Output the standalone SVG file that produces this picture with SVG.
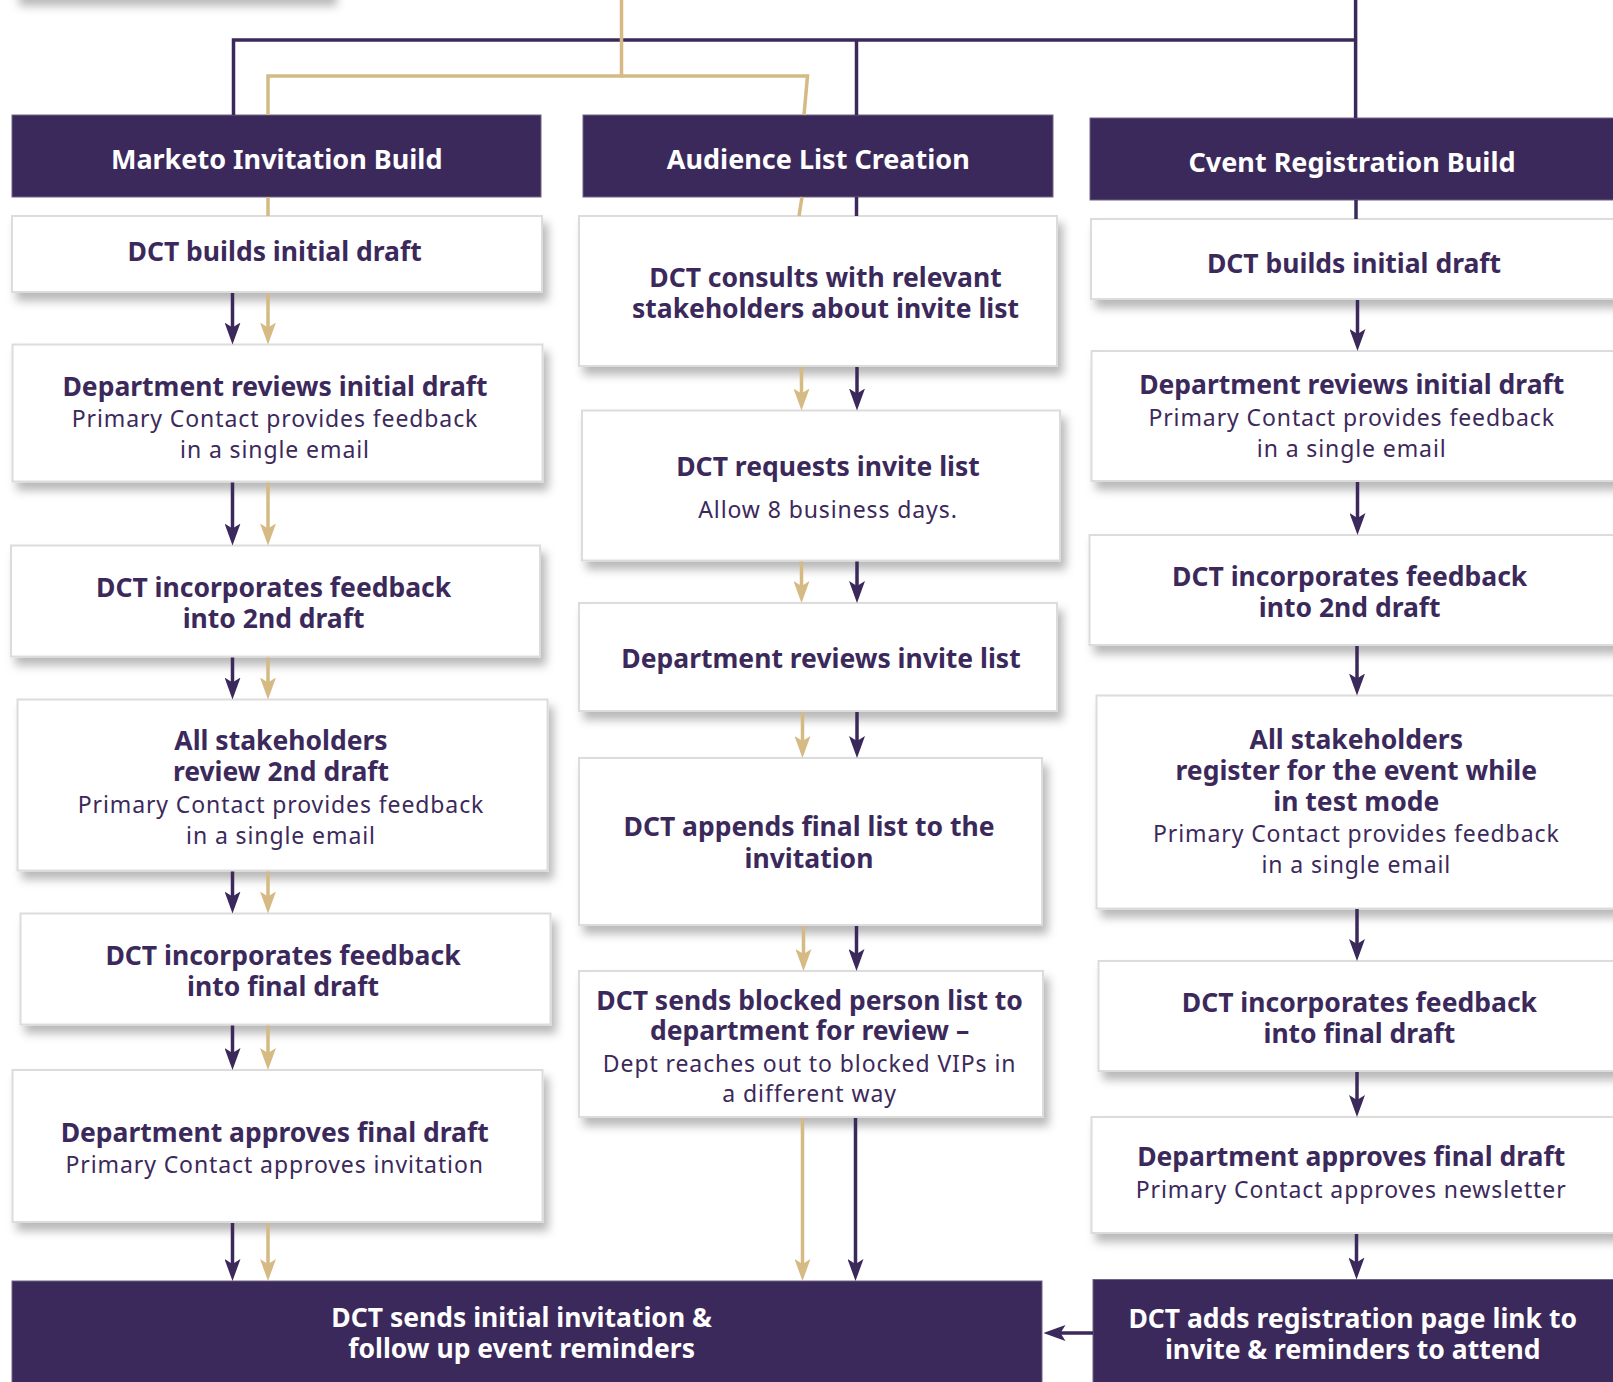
<svg xmlns="http://www.w3.org/2000/svg" width="1613" height="1382" viewBox="0 0 1613 1382">
<defs>
<style>
.box{fill:#fff;stroke:#dcdcdc;stroke-width:2;filter:url(#sh)}
.hdr{fill:#3c295b;stroke:#6e6287;stroke-width:1}
.t{font-family:"Noto Sans","Open Sans",sans-serif;font-weight:700;font-size:26.5px;fill:#3c295b;text-anchor:middle}
.s{font-family:"Noto Sans","Open Sans",sans-serif;font-weight:400;font-size:23px;letter-spacing:0.9px;fill:#3c295b;text-anchor:middle}
.w{font-family:"Noto Sans","Open Sans",sans-serif;font-weight:700;font-size:27px;fill:#fff;text-anchor:middle}
.wb{font-family:"Noto Sans","Open Sans",sans-serif;font-weight:700;font-size:26.5px;fill:#fff;text-anchor:middle}
.d{stroke:#3c295b;stroke-width:3.5;fill:none}
.g{stroke:#d5ba83;stroke-width:3.5;fill:none}
.da{stroke:#3c295b;stroke-width:3.5;fill:none;marker-end:url(#ad)}
.ga{stroke:#d5ba83;stroke-width:3.5;fill:none;marker-end:url(#ag)}
</style>
<filter id="sh" x="-10%" y="-20%" width="125%" height="150%">
<feDropShadow dx="5" dy="8" stdDeviation="5" flood-color="#000" flood-opacity="0.28"/>
</filter>
<marker id="ad" markerUnits="userSpaceOnUse" viewBox="0 0 22 16" markerWidth="22" markerHeight="16" refX="12" refY="8" orient="auto">
<path d="M0,0 L22,8 L0,16 L5,8 Z" fill="#3c295b"/>
</marker>
<marker id="ag" markerUnits="userSpaceOnUse" viewBox="0 0 22 16" markerWidth="22" markerHeight="16" refX="12" refY="8" orient="auto">
<path d="M0,0 L22,8 L0,16 L5,8 Z" fill="#d5ba83"/>
</marker>
</defs>
<rect width="1613" height="1382" fill="#fff"/>
<rect x="14" y="-80" width="318" height="78" fill="#fff" filter="url(#sh)"/>

<g id="marketo-header"><rect class="hdr" x="12" y="115" width="529" height="82"/><text class="w" x="276.7" y="169">Marketo Invitation Build</text></g>
<g id="audience-header"><rect class="hdr" x="583" y="115" width="470" height="82"/><text class="w" x="818.3" y="169">Audience List Creation</text></g>
<g id="cvent-header"><rect class="hdr" x="1090" y="118" width="530" height="82"/><text class="w" x="1352" y="172">Cvent Registration Build</text></g>

<g id="m1"><rect class="box" x="12" y="216" width="530" height="76"/><text class="t" x="274.6" y="261">DCT builds initial draft</text></g>
<g id="m2"><rect class="box" x="12.5" y="344.5" width="530" height="137"/><text class="t" x="275" y="396">Department reviews initial draft</text><text class="s" x="275" y="427">Primary Contact provides feedback</text><text class="s" x="275" y="457.5">in a single email</text></g>
<g id="m3"><rect class="box" x="11" y="545.5" width="529" height="111"/><text class="t" x="273.6" y="596.5">DCT incorporates feedback</text><text class="t" x="273.6" y="627.5">into 2nd draft</text></g>
<g id="m4"><rect class="box" x="17.5" y="699.5" width="530" height="171"/><text class="t" x="281" y="750">All stakeholders</text><text class="t" x="281" y="780.5">review 2nd draft</text><text class="s" x="281" y="812.5">Primary Contact provides feedback</text><text class="s" x="281" y="843.5">in a single email</text></g>
<g id="m5"><rect class="box" x="20.5" y="913.5" width="530" height="111"/><text class="t" x="283" y="965">DCT incorporates feedback</text><text class="t" x="283" y="995.5">into final draft</text></g>
<g id="m6"><rect class="box" x="12.5" y="1070" width="530" height="152"/><text class="t" x="274.7" y="1141.5">Department approves final draft</text><text class="s" x="274.7" y="1172.5">Primary Contact approves invitation</text></g>

<g id="a1"><rect class="box" x="579" y="216" width="478" height="150"/><text class="t" x="825.5" y="287">DCT consults with relevant</text><text class="t" x="825.5" y="317.5">stakeholders about invite list</text></g>
<g id="a2"><rect class="box" x="582" y="410.5" width="478" height="150"/><text class="t" x="828" y="476">DCT requests invite list</text><text class="s" x="828" y="517.5">Allow 8 business days.</text></g>
<g id="a3"><rect class="box" x="579" y="603" width="478" height="108"/><text class="t" x="821" y="667.5">Department reviews invite list</text></g>
<g id="a4"><rect class="box" x="579" y="758" width="463" height="167"/><text class="t" x="809" y="836">DCT appends final list to the</text><text class="t" x="809" y="868">invitation</text></g>
<g id="a5"><rect class="box" x="579" y="971" width="464" height="146"/><text class="t" x="809.6" y="1010">DCT sends blocked person list to</text><text class="t" x="809.6" y="1040">department for review –</text><text class="s" x="809.6" y="1071.5">Dept reaches out to blocked VIPs in</text><text class="s" x="809.6" y="1102">a different way</text></g>

<g id="c1"><rect class="box" x="1091" y="219" width="530" height="80"/><text class="t" x="1354" y="272.5">DCT builds initial draft</text></g>
<g id="c2"><rect class="box" x="1091.5" y="351" width="530" height="130"/><text class="t" x="1351.7" y="393.5">Department reviews initial draft</text><text class="s" x="1351.7" y="425.5">Primary Contact provides feedback</text><text class="s" x="1351.7" y="456.5">in a single email</text></g>
<g id="c3"><rect class="box" x="1089.5" y="535" width="530" height="110"/><text class="t" x="1349.7" y="586">DCT incorporates feedback</text><text class="t" x="1349.7" y="617">into 2nd draft</text></g>
<g id="c4"><rect class="box" x="1096.5" y="695.5" width="530" height="213"/><text class="t" x="1356.3" y="749">All stakeholders</text><text class="t" x="1356.3" y="780">register for the event while</text><text class="t" x="1356.3" y="810.5">in test mode</text><text class="s" x="1356.3" y="841.5">Primary Contact provides feedback</text><text class="s" x="1356.3" y="872.5">in a single email</text></g>
<g id="c5"><rect class="box" x="1098.5" y="961" width="530" height="110"/><text class="t" x="1359.4" y="1012">DCT incorporates feedback</text><text class="t" x="1359.4" y="1043">into final draft</text></g>
<g id="c6"><rect class="box" x="1091.5" y="1117" width="530" height="116"/><text class="t" x="1351.2" y="1166">Department approves final draft</text><text class="s" x="1351.2" y="1198">Primary Contact approves newsletter</text></g>

<g id="send-invitation"><rect class="hdr" x="12" y="1281" width="1030" height="110"/><text class="wb" x="521.6" y="1327">DCT sends initial invitation &amp;</text><text class="wb" x="521.6" y="1357.5">follow up event reminders</text></g>
<g id="add-link"><rect class="hdr" x="1093" y="1279.5" width="530" height="110"/><text class="wb" x="1352.7" y="1328">DCT adds registration page link to</text><text class="wb" x="1352.7" y="1358.5">invite &amp; reminders to attend</text></g>

<g id="connectors">
<path class="d" d="M1355.6,0 V118"/>
<path class="d" d="M1355.6,40 H233.5 V115"/>
<path class="d" d="M856.5,40 V115"/>
<path class="g" d="M621.5,0 V76 H268 V115"/>
<path class="g" d="M621.5,76 H807.5 L804,115"/>
<path class="g" d="M268,197 V216"/>
<path class="d" d="M856.5,197 V216"/>
<path class="g" d="M802,197 L799,216"/>
<path class="d" d="M1356,200 V219"/>

<path class="da" d="M232.5,293 V334.5"/><path class="ga" d="M268,293 V334.5"/>
<path class="da" d="M232.5,482.5 V535.5"/><path class="ga" d="M268,482.5 V535.5"/>
<path class="da" d="M232.5,657.5 V689.5"/><path class="ga" d="M268,657.5 V689.5"/>
<path class="da" d="M232.5,871.5 V903.5"/><path class="ga" d="M268,871.5 V903.5"/>
<path class="da" d="M232.5,1025.5 V1060"/><path class="ga" d="M268,1025.5 V1060"/>
<path class="da" d="M232.5,1223 V1271"/><path class="ga" d="M268,1223 V1271"/>

<path class="ga" d="M801.5,367 V400.5"/><path class="da" d="M857,367 V400.5"/>
<path class="ga" d="M801.5,561.5 V593"/><path class="da" d="M857,561.5 V593"/>
<path class="ga" d="M802.5,712 V748"/><path class="da" d="M857,712 V748"/>
<path class="ga" d="M803.5,926 V961"/><path class="da" d="M856.5,926 V961"/>
<path class="ga" d="M802.5,1118 V1271"/><path class="da" d="M855.5,1118 V1271"/>

<path class="da" d="M1357.5,300 V341"/>
<path class="da" d="M1357.5,482 V525"/>
<path class="da" d="M1357,646 V685.5"/>
<path class="da" d="M1357,909 V951"/>
<path class="da" d="M1357,1072 V1107"/>
<path class="da" d="M1356.5,1234 V1269.5"/>
<path class="da" d="M1093,1333 H1053.5"/>
</g>
</svg>
